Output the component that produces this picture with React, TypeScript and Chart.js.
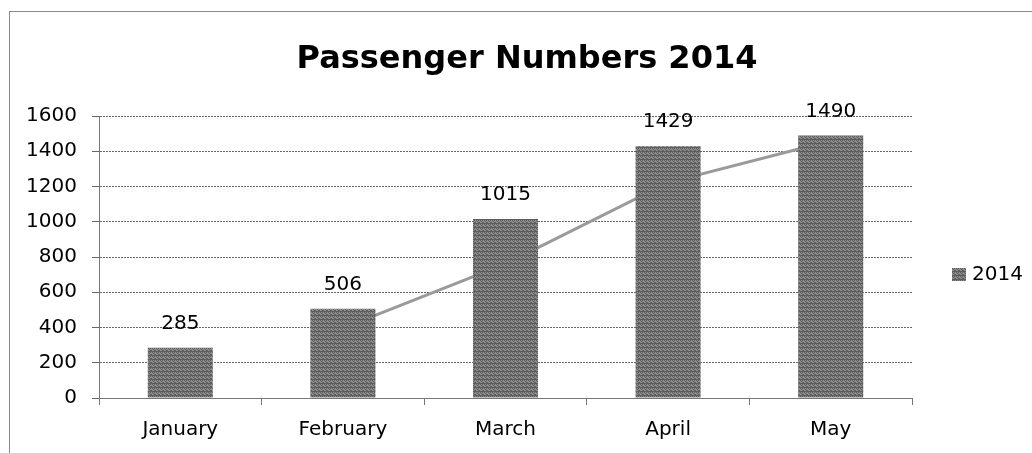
import React, { useEffect, useRef } from "react";
import { Chart, registerables } from "chart.js";

Chart.register(...registerables);

const categories = ["January", "February", "March", "April", "May"];
const passengers2014 = [285, 506, 1015, 1429, 1490];
const movingAverage = [null, 396, 761, 1222, 1460];
const seriesLabel = "2014";
const chartTitle = "Passenger Numbers 2014";
const yMin = 0;
const yMax = 1600;
const yStep = 200;

const FONT = "'DejaVu Sans', sans-serif";

function makeBarPattern(): CanvasPattern | string {
  const tile = document.createElement("canvas");
  tile.width = 4;
  tile.height = 4;
  const t = tile.getContext("2d");
  if (!t) return "#7a7a7a";
  t.fillStyle = "#8c8c8c";
  t.fillRect(0, 0, 4, 4);
  t.fillStyle = "#5e5e5e";
  t.fillRect(0, 0, 1, 1);
  t.fillRect(2, 0, 1, 1);
  t.fillRect(1, 1, 1, 1);
  t.fillRect(3, 2, 1, 1);
  t.fillRect(0, 3, 4, 1);
  t.fillRect(2, 2, 1, 1);
  const p = t.createPattern(tile, "repeat");
  return p || "#7a7a7a";
}

const frame = {
  id: "frame",
  beforeDraw(chart: any) {
    const ctx = chart.ctx;
    ctx.save();
    ctx.fillStyle = "#fff";
    ctx.fillRect(0, 0, chart.width, chart.height);
    ctx.strokeStyle = "#8a8a8a";
    ctx.lineWidth = 1;
    ctx.strokeRect(9.5, 11.5, chart.width + 20, chart.height + 20);
    ctx.font = `bold 32px ${FONT}`;
    ctx.fillStyle = "#000";
    ctx.textAlign = "center";
    ctx.textBaseline = "alphabetic";
    ctx.fillText(chartTitle, 527, 68);
    ctx.restore();
  },
};

const valueLabels = {
  id: "valueLabels",
  afterDatasetsDraw(chart: any) {
    const ctx = chart.ctx;
    const meta = chart.getDatasetMeta(0);
    ctx.save();
    ctx.font = `20px ${FONT}`;
    ctx.fillStyle = "#000";
    ctx.textAlign = "center";
    ctx.textBaseline = "middle";
    meta.data.forEach((el: any, i: number) => {
      ctx.fillText(String(passengers2014[i]), el.x, el.y - 24);
    });
    ctx.restore();
  },
};

const sideLegend = {
  id: "sideLegend",
  afterDraw(chart: any) {
    const ctx = chart.ctx;
    const area = chart.chartArea;
    const x = area.right + 40;
    const y = 275;
    ctx.save();
    ctx.fillStyle = chart.data.datasets[0].backgroundColor;
    ctx.fillRect(x, y - 7, 14, 13);
    ctx.font = `20px ${FONT}`;
    ctx.fillStyle = "#000";
    ctx.textAlign = "left";
    ctx.textBaseline = "middle";
    ctx.fillText(chart.data.datasets[0].label, x + 20, y);
    ctx.restore();
  },
};

export default function App() {
  const ref = useRef<HTMLCanvasElement>(null);
  useEffect(() => {
    document.body.style.margin = "0";
    const barFill = makeBarPattern();
    const chart = new Chart(ref.current!, {
      type: "bar",
      data: {
        labels: categories,
        datasets: [
          {
            type: "bar",
            label: seriesLabel,
            data: passengers2014,
            backgroundColor: barFill as any,
            borderWidth: 0,
            barPercentage: 0.4,
            categoryPercentage: 1,
            order: 0,
          },
          {
            type: "line",
            label: "2 per. Mov. Avg. (2014)",
            data: movingAverage as any,
            borderColor: "#9a9a9a",
            borderWidth: 3,
            pointRadius: 0,
            fill: false,
            tension: 0,
            order: 1,
          } as any,
        ],
      },
      options: {
        responsive: false,
        animation: false,
        layout: { padding: { left: 10, right: 120, top: 116, bottom: 0 } },
        plugins: {
          title: { display: false },
          legend: { display: false },
          tooltip: { enabled: false },
        },
        scales: {
          x: {
            afterFit: (scale: any) => {
              scale.height = 55;
            },
            grid: {
              display: true,
              drawOnChartArea: false,
              offset: true,
              tickLength: 7,
              color: "#777",
            },
            border: { color: "#777" },
            ticks: {
              color: "#000",
              font: { family: FONT, size: 20 },
              padding: 13,
            },
          },
          y: {
            min: yMin,
            max: yMax,
            afterFit: (scale: any) => {
              scale.width = 89;
            },
            ticks: {
              stepSize: yStep,
              color: "#000",
              font: { family: FONT, size: 20 },
              padding: 15,
              callback: (v: any) => String(v),
            },
            grid: { color: "#666", tickLength: 7 },
            border: { color: "#777", dash: [2, 1] },
          },
        },
      },
      plugins: [frame, valueLabels, sideLegend],
    });
    return () => chart.destroy();
  }, []);
  return (
    <div style={{ width: 1032, height: 453 }}>
      <canvas ref={ref} width={1032} height={453} style={{ display: "block" }} />
    </div>
  );
}
